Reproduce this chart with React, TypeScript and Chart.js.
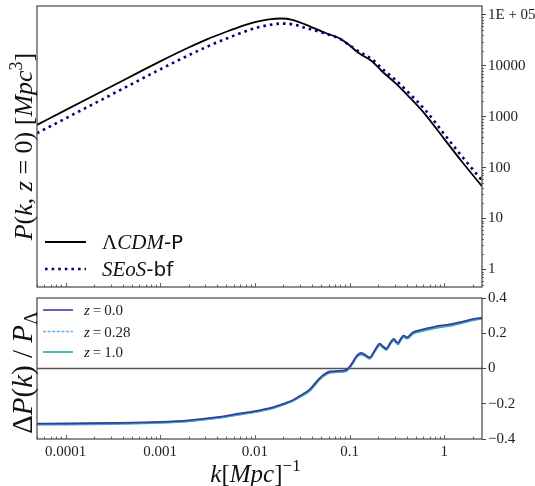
import React, { useEffect, useRef } from "react";
import { Chart, registerables } from "chart.js";
Chart.register(...registerables);

const SERIF = "'Liberation Serif', 'DejaVu Serif', serif";
const SANS = "'DejaVu Sans', sans-serif";
const FRAME = "#444444";

// ---- axis ranges & ticks ----
const kRange = [5e-5, 2.5];
const pRange = [0.45, 1.5e5];
const ratioRange = [-0.4, 0.4];
const xTickValues = [1e-4, 1e-3, 1e-2, 1e-1, 1];
const xTickLabels = ["0.0001", "0.001", "0.01", "0.1", "1"];
const pTickValues = [1, 10, 100, 1000, 10000, 100000];
const pTickLabels = ["1", "10", "100", "1000", "10000", "1E + 05"];
const ratioTickValues = [-0.4, -0.2, 0, 0.2, 0.4];
const ratioTickLabels = ["\u22120.4", "\u22120.2", "0", "0.2", "0.4"];

// ---- top panel: power spectrum ----
const kPower = [5e-5, 1e-4, 3.16e-4, 1e-3, 2e-3, 3.16e-3, 5e-3, 6.8e-3, 0.01, 0.0141, 0.0187, 0.0248, 0.0343, 0.0557, 0.0771, 0.098, 0.125, 0.173, 0.221, 0.305, 0.422, 0.634, 1.0, 1.5, 2.5];
const pLCDM = [692, 1346, 4064, 12250, 22900, 33500, 46800, 57800, 72400, 81700, 85100, 80500, 64400, 44200, 35200, 26000, 17800, 12200, 7740, 4570, 2490, 1090, 363, 138, 43];
const pSEoS = [475, 926, 2808, 8538, 16170, 24020, 34300, 42950, 54900, 63400, 67650, 65850, 55700, 42900, 34700, 26000, 19200, 13400, 8750, 5300, 2940, 1335, 453, 175, 56];

// ---- bottom panel: relative difference ----
const kRatio = [5e-5, 1e-4, 3e-4, 1e-3, 2e-3, 4e-3, 7e-3, 0.01, 0.015, 0.02, 0.025, 0.03, 0.038, 0.0483, 0.055, 0.0617, 0.075, 0.0925, 0.1, 0.109, 0.12, 0.133, 0.148, 0.163, 0.185, 0.208, 0.226, 0.244, 0.268, 0.292, 0.324, 0.348, 0.372, 0.404, 0.467, 0.6, 0.8, 1.14, 1.6, 2.0, 2.5];
const ratioZ0 = [-0.313, -0.312, -0.309, -0.303, -0.294, -0.276, -0.255, -0.242, -0.222, -0.2, -0.18, -0.155, -0.118, -0.055, -0.03, -0.017, -0.014, -0.008, 0.01, 0.04, 0.075, 0.088, 0.075, 0.063, 0.105, 0.141, 0.125, 0.113, 0.145, 0.168, 0.145, 0.17, 0.187, 0.177, 0.206, 0.222, 0.238, 0.25, 0.268, 0.28, 0.288];
const ratioZ028 = [-0.317, -0.316, -0.313, -0.307, -0.298, -0.28, -0.259, -0.246, -0.226, -0.204, -0.184, -0.159, -0.122, -0.059, -0.034, -0.021, -0.018, -0.012, 0.006, 0.036, 0.071, 0.084, 0.071, 0.059, 0.101, 0.137, 0.121, 0.109, 0.141, 0.164, 0.141, 0.166, 0.183, 0.173, 0.202, 0.218, 0.234, 0.246, 0.264, 0.276, 0.285];
const ratioZ1 = [-0.319, -0.318, -0.315, -0.309, -0.3, -0.282, -0.261, -0.248, -0.228, -0.206, -0.186, -0.162, -0.126, -0.063, -0.038, -0.025, -0.021, -0.015, 0.003, 0.032, 0.066, 0.079, 0.067, 0.055, 0.096, 0.132, 0.117, 0.105, 0.136, 0.159, 0.137, 0.161, 0.178, 0.169, 0.197, 0.213, 0.229, 0.242, 0.26, 0.273, 0.283];
const zeroLineK = [5e-5, 2.5];
const zeroLineY = [0, 0];

const COLOR_LCDM = "#000000";
const COLOR_SEOS = "#00007a";
const COLOR_Z0 = "#3a3a9c";
const COLOR_Z028 = "#5fb0f5";
const COLOR_Z1 = "#27a8a8";

function pts(xs: number[], ys: number[]) {
  return xs.map((x, i) => ({ x, y: ys[i] }));
}

type Seg = { t: string; f: string; dy?: number };
const it = (s: number) => `italic ${s}px ${SERIF}`;
const rm = (s: number) => `${s}px ${SERIF}`;
const sans = (s: number) => `${s}px ${SANS}`;

function richWidth(ctx: CanvasRenderingContext2D, segs: Seg[]) {
  let w = 0;
  for (const s of segs) {
    ctx.font = s.f;
    w += ctx.measureText(s.t).width;
  }
  return w;
}
function drawRich(ctx: CanvasRenderingContext2D, segs: Seg[], x: number, y: number) {
  let cx = x;
  ctx.textBaseline = "alphabetic";
  ctx.textAlign = "left";
  for (const s of segs) {
    ctx.font = s.f;
    ctx.fillText(s.t, cx, y + (s.dy || 0));
    cx += ctx.measureText(s.t).width;
  }
}
function drawRichCentered(ctx: CanvasRenderingContext2D, segs: Seg[], cx: number, baseline: number, rotate: boolean) {
  ctx.save();
  ctx.fillStyle = "#111";
  if (rotate) {
    ctx.translate(baseline, cx);
    ctx.rotate(-Math.PI / 2);
    const w = richWidth(ctx, segs);
    drawRich(ctx, segs, -w / 2, 0);
  } else {
    const w = richWidth(ctx, segs);
    drawRich(ctx, segs, cx - w / 2, baseline);
  }
  ctx.restore();
}

function drawFrameAndXTicks(chart: any) {
  const { ctx, chartArea: a } = chart;
  const xs = chart.scales.x;
  ctx.save();
  ctx.strokeStyle = FRAME;
  ctx.lineWidth = 1.2;
  ctx.strokeRect(a.left, a.top, a.right - a.left, a.bottom - a.top);
  ctx.lineWidth = 0.8;
  ctx.beginPath();
  for (let e = -5; e <= 0; e++) {
    for (let m = 1; m <= 9; m++) {
      const v = m * Math.pow(10, e);
      if (v < kRange[0] || v > kRange[1]) continue;
      const px = Math.round(xs.getPixelForValue(v)) + 0.5;
      const len = m === 1 ? 4 : 2.5;
      ctx.moveTo(px, a.bottom);
      ctx.lineTo(px, a.bottom - len);
    }
  }
  ctx.stroke();
  ctx.restore();
}

const topTitle: Seg[] = [
  { t: "P", f: it(26) }, { t: "(", f: rm(26) }, { t: "k", f: it(26) }, { t: ", ", f: rm(26) },
  { t: "z", f: it(26) }, { t: " = ", f: rm(26) }, { t: "0", f: rm(26) }, { t: ")", f: rm(26) },
  { t: " [", f: rm(26) }, { t: "Mpc", f: it(26) }, { t: "3", f: rm(18), dy: -10 }, { t: "]", f: rm(26) },
];
const bottomTitle: Seg[] = [
  { t: "\u0394", f: rm(29) }, { t: "P", f: it(29) }, { t: "(", f: rm(29) }, { t: "k", f: it(29) },
  { t: ")", f: rm(29) }, { t: " / ", f: rm(29) }, { t: "P", f: it(29) }, { t: "\u039B", f: rm(19), dy: 5 },
];
const xTitle: Seg[] = [
  { t: "k", f: it(25) }, { t: "[", f: rm(25) }, { t: "Mpc", f: it(25) }, { t: "]", f: rm(25) },
  { t: "\u22121", f: rm(17), dy: -11 },
];
const legendTop = [
  { segs: [{ t: "\u039B", f: rm(21) }, { t: "CDM", f: it(21) }, { t: "-P", f: sans(20) }] as Seg[], color: COLOR_LCDM, dash: [] as number[], width: 1.8 },
  { segs: [{ t: "SEoS", f: it(21) }, { t: "-bf", f: sans(20) }] as Seg[], color: COLOR_SEOS, dash: [2.6, 4], width: 2.6 },
];
const legendBottom = [
  { segs: [{ t: "z", f: it(15) }, { t: "\u2009=\u2009", f: rm(15) }, { t: "0.0", f: rm(15) }] as Seg[], color: COLOR_Z0, dash: [] as number[] },
  { segs: [{ t: "z", f: it(15) }, { t: "\u2009=\u2009", f: rm(15) }, { t: "0.28", f: rm(15) }] as Seg[], color: COLOR_Z028, dash: [3, 1.6] },
  { segs: [{ t: "z", f: it(15) }, { t: "\u2009=\u2009", f: rm(15) }, { t: "1.0", f: rm(15) }] as Seg[], color: COLOR_Z1, dash: [] as number[] },
];

const topDecor = {
  id: "topDecor",
  afterDraw(chart: any) {
    const { ctx, chartArea: a } = chart;
    drawFrameAndXTicks(chart);
    const ys = chart.scales.y;
    ctx.save();
    ctx.strokeStyle = FRAME;
    ctx.lineWidth = 0.8;
    ctx.beginPath();
    for (let e = -1; e <= 5; e++) {
      for (let m = 2; m <= 9; m++) {
        const v = m * Math.pow(10, e);
        if (v < pRange[0] || v > pRange[1]) continue;
        const py = Math.round(ys.getPixelForValue(v)) + 0.5;
        ctx.moveTo(a.right, py);
        ctx.lineTo(a.right + 2, py);
      }
    }
    ctx.stroke();
    ctx.restore();
    drawRichCentered(ctx, topTitle, (a.top + a.bottom) / 2, 32, true);
    const rows = [242, 269];
    legendTop.forEach((L, i) => {
      ctx.save();
      ctx.strokeStyle = L.color;
      ctx.lineWidth = L.width;
      ctx.setLineDash(L.dash);
      ctx.beginPath();
      ctx.moveTo(45, rows[i]);
      ctx.lineTo(86, rows[i]);
      ctx.stroke();
      ctx.restore();
      ctx.save();
      ctx.fillStyle = "#111";
      drawRich(ctx, L.segs, 102, rows[i] + 7);
      ctx.restore();
    });
  },
};

const bottomDecor = {
  id: "bottomDecor",
  afterDraw(chart: any) {
    const { ctx, chartArea: a } = chart;
    drawFrameAndXTicks(chart);
    drawRichCentered(ctx, bottomTitle, (a.top + a.bottom) / 2 + 4, 32, true);
    drawRichCentered(ctx, xTitle, (a.left + a.right) / 2 - 4, 190, false);
    const rows = [18, 39.5, 60];
    legendBottom.forEach((L, i) => {
      ctx.save();
      ctx.strokeStyle = L.color;
      ctx.lineWidth = 1.6;
      ctx.setLineDash(L.dash);
      ctx.beginPath();
      ctx.moveTo(43, rows[i]);
      ctx.lineTo(73, rows[i]);
      ctx.stroke();
      ctx.restore();
      ctx.save();
      ctx.fillStyle = "#222";
      drawRich(ctx, L.segs, 84, rows[i] + 5);
      ctx.restore();
    });
  },
};

const tickFont = { family: SERIF, size: 15 };

function noPad(s: any) {
  s.paddingTop = 0;
  s.paddingBottom = 0;
  s.paddingLeft = 0;
  s.paddingRight = 0;
}

function topConfig(): any {
  return {
    type: "line",
    data: {
      datasets: [
        { data: pts(kPower, pSEoS), borderColor: COLOR_SEOS, borderWidth: 2.6, borderDash: [2.6, 4], pointRadius: 0, cubicInterpolationMode: "monotone", fill: false },
        { data: pts(kPower, pLCDM), borderColor: COLOR_LCDM, borderWidth: 1.8, pointRadius: 0, cubicInterpolationMode: "monotone", fill: false },
      ],
    },
    options: {
      animation: false,
      responsive: false,
      devicePixelRatio: 1,
      layout: { padding: { left: 37, top: 6, right: 0, bottom: 5 } },
      plugins: { legend: { display: false }, tooltip: { enabled: false } },
      scales: {
        x: { type: "logarithmic", min: kRange[0], max: kRange[1], display: false },
        y: {
          type: "logarithmic",
          position: "right",
          min: pRange[0],
          max: pRange[1],
          afterFit: (s: any) => { s.width = 53; noPad(s); },
          afterBuildTicks: (s: any) => { s.ticks = pTickValues.map((v) => ({ value: v })); },
          ticks: { callback: (_v: any, i: number) => pTickLabels[i], font: tickFont, color: "#222", padding: 2, autoSkip: false },
          grid: { drawOnChartArea: false, drawTicks: true, tickLength: 4, color: FRAME, lineWidth: 1 },
          border: { display: false },
        },
      },
    },
    plugins: [topDecor],
  };
}

function bottomConfig(): any {
  return {
    type: "line",
    data: {
      datasets: [
        { data: pts(kRatio, ratioZ0), borderColor: COLOR_Z0, borderWidth: 1.8, pointRadius: 0, cubicInterpolationMode: "monotone", fill: false },
        { data: pts(kRatio, ratioZ028), borderColor: COLOR_Z028, borderWidth: 1.6, borderDash: [3, 1.6], pointRadius: 0, cubicInterpolationMode: "monotone", fill: false },
        { data: pts(kRatio, ratioZ1), borderColor: COLOR_Z1, borderWidth: 1.8, pointRadius: 0, cubicInterpolationMode: "monotone", fill: false },
        { data: pts(zeroLineK, zeroLineY), borderColor: "#555555", borderWidth: 1.4, pointRadius: 0, fill: false },
      ],
    },
    options: {
      animation: false,
      responsive: false,
      devicePixelRatio: 1,
      layout: { padding: { left: 37, top: 6, right: 0, bottom: 0 } },
      plugins: { legend: { display: false }, tooltip: { enabled: false } },
      scales: {
        x: {
          type: "logarithmic",
          min: kRange[0],
          max: kRange[1],
          afterFit: (s: any) => { s.height = 47; noPad(s); },
          afterBuildTicks: (s: any) => { s.ticks = xTickValues.map((v) => ({ value: v })); },
          ticks: { callback: (_v: any, i: number) => xTickLabels[i], font: tickFont, color: "#222", padding: 4, autoSkip: false, maxRotation: 0 },
          grid: { display: false, drawTicks: false },
          border: { display: false },
        },
        y: {
          type: "linear",
          position: "right",
          min: ratioRange[0],
          max: ratioRange[1],
          afterFit: (s: any) => { s.width = 53; noPad(s); },
          afterBuildTicks: (s: any) => { s.ticks = ratioTickValues.map((v) => ({ value: v })); },
          ticks: { callback: (_v: any, i: number) => ratioTickLabels[i], font: tickFont, color: "#222", padding: 2, autoSkip: false },
          grid: { drawOnChartArea: false, drawTicks: true, tickLength: 4, color: FRAME, lineWidth: 1 },
          border: { display: false },
        },
      },
    },
    plugins: [bottomDecor],
  };
}

export default function App() {
  const topRef = useRef<HTMLCanvasElement>(null);
  const botRef = useRef<HTMLCanvasElement>(null);
  useEffect(() => {
    const c1 = new Chart(topRef.current as HTMLCanvasElement, topConfig());
    const c2 = new Chart(botRef.current as HTMLCanvasElement, bottomConfig());
    return () => {
      c1.destroy();
      c2.destroy();
    };
  }, []);
  return (
    <div style={{ position: "absolute", left: 0, top: 0, width: 535, height: 486, background: "#ffffff" }}>
      <canvas ref={topRef} width={535} height={292} style={{ position: "absolute", left: 0, top: 0, width: 535, height: 292 }} />
      <canvas ref={botRef} width={535} height={194} style={{ position: "absolute", left: 0, top: 292, width: 535, height: 194 }} />
    </div>
  );
}
